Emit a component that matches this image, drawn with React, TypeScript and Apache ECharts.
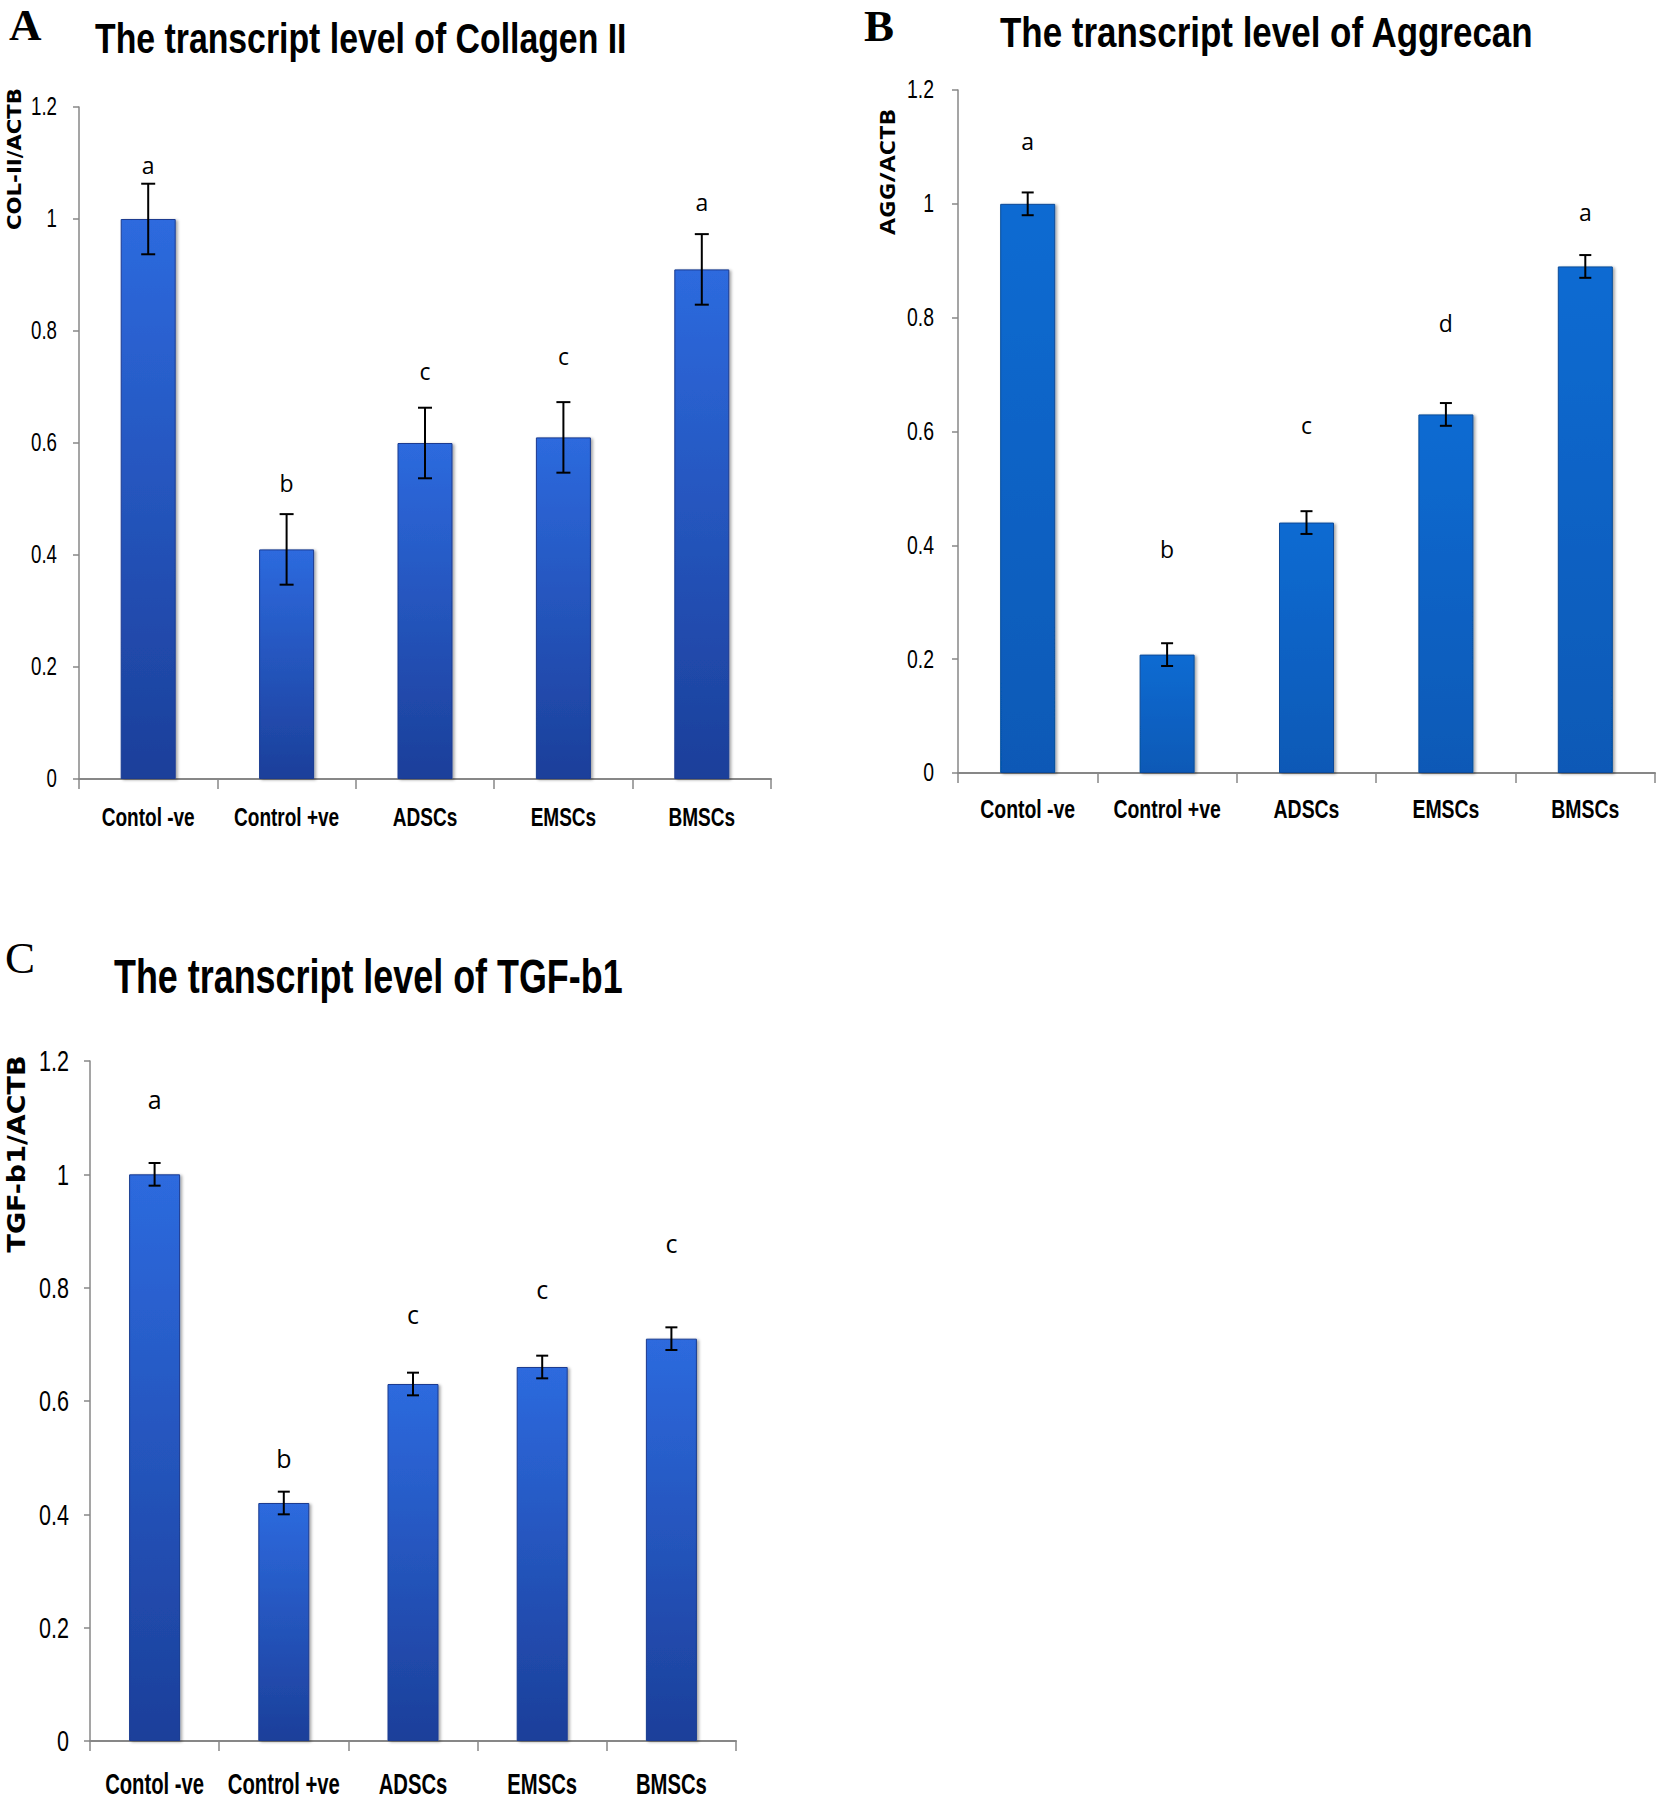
import React, { useEffect, useRef } from "react";
import * as echarts from "echarts";

// ---------- data ----------
const categories = ["Contol -ve", "Control +ve", "ADSCs", "EMSCs", "BMSCs"];
const yTickLabels = ["0", "0.2", "0.4", "0.6", "0.8", "1", "1.2"];
const yMin = 0;
const yMax = 1.2;
const yStep = 0.2;

const col2Values = [1.0, 0.41, 0.6, 0.61, 0.91];
const col2Errors = [0.063, 0.063, 0.063, 0.063, 0.063];
const col2Letters = ["a", "b", "c", "c", "a"];
const col2LetterY = [1.097, 0.529, 0.728, 0.755, 1.03];

const aggValues = [1.0, 0.208, 0.44, 0.63, 0.89];
const aggErrors = [0.02, 0.02, 0.02, 0.02, 0.02];
const aggLetters = ["a", "b", "c", "d", "a"];
const aggLetterY = [1.111, 0.393, 0.611, 0.791, 0.986];

const tgfValues = [1.0, 0.42, 0.63, 0.66, 0.71];
const tgfErrors = [0.02, 0.02, 0.02, 0.02, 0.02];
const tgfLetters = ["a", "b", "c", "c", "c"];
const tgfLetterY = [1.133, 0.5, 0.754, 0.797, 0.878];

const titles = [
  "The transcript level of Collagen II",
  "The transcript level of Aggrecan",
  "The transcript level of TGF-b1",
];
const axisNames = ["COL-II/ACTB", "AGG/ACTB", "TGF-b1/ACTB"];
const panelLetters = ["A", "B", "C"];

// ---------- layout ----------
const SANS = '"Liberation Sans", Arial, sans-serif';

function measure(text: string, font: string): number {
  const c = document.createElement("canvas");
  const ctx = c.getContext("2d");
  if (!ctx) return 1;
  ctx.font = font;
  return ctx.measureText(text).width || 1;
}

const darkBlue = () =>
  new echarts.graphic.LinearGradient(0, 0, 0, 1, [
    { offset: 0, color: "#2d6ade" },
    { offset: 1, color: "#1c3f9a" },
  ]);
const brightBlue = () =>
  new echarts.graphic.LinearGradient(0, 0, 0, 1, [
    { offset: 0, color: "#0b6bd2" },
    { offset: 1, color: "#0759b6" },
  ]);

const panels = [
  {
    values: col2Values, errors: col2Errors, letters: col2Letters, letterY: col2LetterY,
    grid: { left: 79, top: 107, width: 692, height: 672 },
    barWidth: 55, cap: 14, fill: darkBlue, border: "#1a3b90",
    tick: { size: 25, gap: 22, width: 26 },
    cat: { size: 25, offset: 39, width: 93 },
    letterFont: 23,
    title: { x: 95, y: 38, size: 42, width: 532 },
    axisName: { x: 14, y: 159, size: 20, family: '"DejaVu Sans", sans-serif', length: 142 },
    panel: { x: 9, y: 2, size: 45, weight: "bold" },
  },
  {
    values: aggValues, errors: aggErrors, letters: aggLetters, letterY: aggLetterY,
    grid: { left: 958, top: 90, width: 697, height: 683 },
    barWidth: 55, cap: 12, fill: brightBlue, border: "#084a98",
    tick: { size: 25, gap: 24, width: 27 },
    cat: { size: 25, offset: 37, width: 95 },
    letterFont: 23,
    title: { x: 1000, y: 32, size: 42, width: 534 },
    axisName: { x: 887, y: 172, size: 22, family: '"Open Sans", sans-serif', length: 126 },
    panel: { x: 864, y: 3, size: 45, weight: "bold" },
  },
  {
    values: tgfValues, errors: tgfErrors, letters: tgfLetters, letterY: tgfLetterY,
    grid: { left: 90, top: 1061, width: 646, height: 680 },
    barWidth: 51, cap: 12, fill: darkBlue, border: "#1a3b90",
    tick: { size: 30, gap: 21, width: 30 },
    cat: { size: 30, offset: 42, width: 99 },
    letterFont: 25,
    title: { x: 114, y: 977, size: 48, width: 509 },
    axisName: { x: 17, y: 1154, size: 24, family: '"DejaVu Sans", sans-serif', length: 197 },
    panel: { x: 5, y: 935, size: 45, weight: "normal" },
  },
];

function buildOption() {
  const grids: any[] = [];
  const xAxes: any[] = [];
  const yAxes: any[] = [];
  const series: any[] = [];
  const graphics: any[] = [];

  panels.forEach((p, k) => {
    grids.push({ ...p.grid, containLabel: false });
    xAxes.push({
      type: "category",
      gridIndex: k,
      data: categories,
      boundaryGap: true,
      axisLine: { lineStyle: { color: "#878787", width: 2 } },
      axisTick: { show: true, length: 10, alignWithLabel: false, lineStyle: { color: "#878787", width: 1.5 } },
      axisLabel: { show: false },
      splitLine: { show: false },
    });
    yAxes.push({
      type: "value",
      gridIndex: k,
      min: yMin,
      max: yMax,
      interval: yStep,
      axisLine: { show: true, lineStyle: { color: "#878787", width: 1.5 } },
      axisTick: { show: true, length: 6, lineStyle: { color: "#878787", width: 1.5 } },
      axisLabel: { show: false },
      splitLine: { show: false },
    });
    series.push({
      type: "bar",
      xAxisIndex: k,
      yAxisIndex: k,
      data: p.values,
      barWidth: p.barWidth,
      itemStyle: {
        color: p.fill(),
        borderColor: p.border,
        borderWidth: 1,
        shadowColor: "rgba(0,0,0,0.35)",
        shadowBlur: 3,
        shadowOffsetX: 2,
        shadowOffsetY: 1,
      },
      z: 2,
    });
    const letters = p.letters;
    const cap = p.cap;
    const lf = p.letterFont;
    series.push({
      type: "custom",
      xAxisIndex: k,
      yAxisIndex: k,
      z: 5,
      data: p.values.map((v, i) => [i, v, p.errors[i], p.letterY[i]]),
      renderItem: (params: any, api: any) => {
        const i = api.value(0);
        const v = api.value(1);
        const e = api.value(2);
        const ly = api.value(3);
        const top = api.coord([i, v + e]);
        const bot = api.coord([i, v - e]);
        const lp = api.coord([i, ly]);
        const x = top[0];
        const h = cap / 2;
        const st = { stroke: "#000", lineWidth: 2 };
        return {
          type: "group",
          children: [
            { type: "line", shape: { x1: x, y1: top[1], x2: x, y2: bot[1] }, style: st },
            { type: "line", shape: { x1: x - h, y1: top[1], x2: x + h, y2: top[1] }, style: st },
            { type: "line", shape: { x1: x - h, y1: bot[1], x2: x + h, y2: bot[1] }, style: st },
            {
              type: "text",
              x: lp[0],
              y: lp[1],
              style: {
                text: letters[params.dataIndex],
                fill: "#000",
                fontFamily: '"Open Sans", sans-serif',
                fontSize: lf,
                align: "center",
                verticalAlign: "middle",
              },
            },
          ],
        };
      },
    });

    // category labels (condensed bold)
    const cf = `bold ${p.cat.size}px ${SANS}`;
    const cScale = p.cat.width / measure(categories[0], cf);
    const cOff = p.cat.offset;
    const cSize = p.cat.size;
    series.push({
      type: "custom",
      xAxisIndex: k,
      yAxisIndex: k,
      z: 5,
      silent: true,
      data: categories.map((_, i) => [i, yMin]),
      renderItem: (params: any, api: any) => {
        const pt = api.coord([api.value(0), api.value(1)]);
        return {
          type: "text",
          x: pt[0],
          y: pt[1] + cOff,
          scaleX: cScale,
          style: {
            text: categories[params.dataIndex],
            fill: "#000",
            fontFamily: SANS,
            fontWeight: "bold",
            fontSize: cSize,
            align: "center",
            verticalAlign: "middle",
          },
        };
      },
    });

    // y tick labels (condensed)
    const yf = `${p.tick.size}px ${SANS}`;
    const yScale = p.tick.width / measure("0.8", yf);
    const yGap = p.tick.gap;
    const ySize = p.tick.size;
    series.push({
      type: "custom",
      xAxisIndex: k,
      yAxisIndex: k,
      z: 5,
      silent: true,
      data: yTickLabels.map((t) => [0, parseFloat(t)]),
      renderItem: (params: any, api: any) => {
        const pt = api.coord([0, api.value(1)]);
        const bw = api.size([1, 0])[0];
        return {
          type: "text",
          x: pt[0] - bw / 2 - yGap,
          y: pt[1],
          scaleX: yScale,
          style: {
            text: yTickLabels[params.dataIndex],
            fill: "#000",
            fontFamily: SANS,
            fontSize: ySize,
            align: "right",
            verticalAlign: "middle",
          },
        };
      },
    });

    // title
    const tf = `bold ${p.title.size}px ${SANS}`;
    const tw = measure(titles[k], tf);
    graphics.push({
      type: "text",
      x: p.title.x,
      y: p.title.y,
      scaleX: p.title.width / tw,
      style: {
        text: titles[k],
        fill: "#000",
        fontFamily: SANS,
        fontWeight: "bold",
        fontSize: p.title.size,
        align: "left",
        verticalAlign: "middle",
      },
    });
    // y-axis name
    const nf = `bold ${p.axisName.size}px ${p.axisName.family}`;
    const nw = measure(axisNames[k], nf);
    graphics.push({
      type: "text",
      x: p.axisName.x,
      y: p.axisName.y,
      rotation: Math.PI / 2,
      scaleX: p.axisName.length / nw,
      style: {
        text: axisNames[k],
        fill: "#000",
        fontFamily: p.axisName.family,
        fontWeight: "bold",
        fontSize: p.axisName.size,
        align: "center",
        verticalAlign: "middle",
      },
    });
    // panel letter
    graphics.push({
      type: "text",
      x: p.panel.x,
      y: p.panel.y,
      style: {
        text: panelLetters[k],
        fill: "#000",
        fontFamily: '"Liberation Serif", "Times New Roman", serif',
        fontWeight: p.panel.weight,
        fontSize: p.panel.size,
        lineHeight: p.panel.size,
        align: "left",
        verticalAlign: "top",
      },
    });
  });

  return {
    animation: false,
    backgroundColor: "#fff",
    grid: grids,
    xAxis: xAxes,
    yAxis: yAxes,
    series,
    graphic: graphics,
  };
}

export default function App() {
  const ref = useRef<HTMLDivElement>(null);
  useEffect(() => {
    if (!ref.current) return;
    const chart = echarts.init(ref.current, null, { renderer: "svg" });
    chart.setOption(buildOption());
    return () => chart.dispose();
  }, []);
  return (
    <div
      ref={ref}
      style={{ position: "absolute", left: 0, top: 0, width: 1658, height: 1802, background: "#fff" }}
    />
  );
}
